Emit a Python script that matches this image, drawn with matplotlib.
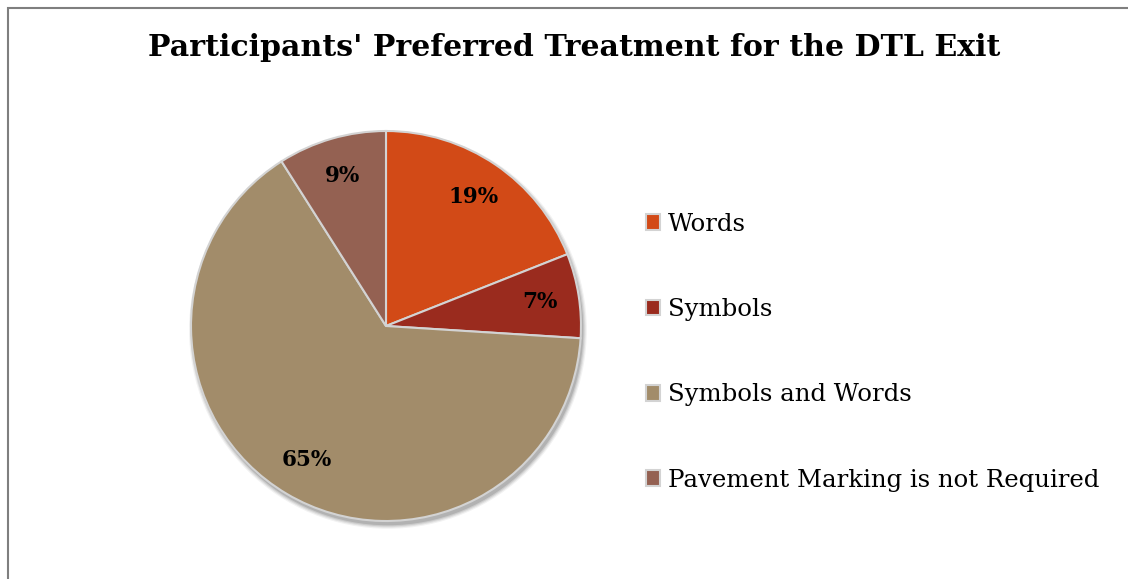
import matplotlib.pyplot as plt
from matplotlib.patches import Circle, Rectangle

categories = ["Words", "Symbols", "Symbols and Words", "Pavement Marking is not Required"]
shares = [19, 7, 65, 9]
colors = ["#D24A17", "#9A2B1E", "#A28C6A", "#946152"]
title = "Participants' Preferred Treatment for the DTL Exit"

W, H = 1128, 579
fig = plt.figure(figsize=(W / 100, H / 100), dpi=100)
plt.rcParams["font.family"] = ["DejaVu Serif"]

# outer chart frame (cut off on right and bottom)
fig.patches.append(Rectangle((8 / W, -0.1), 1.2, 1 - 8 / H + 0.1, transform=fig.transFigure,
                             fill=False, edgecolor="#7f7f7f", linewidth=1.5))

cx, cy, r = 386, 326, 195
ax = fig.add_axes([(cx - r) / W, (H - cy - r) / H, 2 * r / W, 2 * r / H])

# soft shadow under the pie
for k, a in enumerate([0.05, 0.07, 0.09, 0.12]):
    ax.add_patch(Circle((0.01, -0.02), 1.0 + 0.02 - k * 0.006, color="black", alpha=a,
                        linewidth=0, zorder=0, clip_on=False))

wedges, texts, autotexts = ax.pie(
    shares,
    colors=colors,
    startangle=90,
    counterclock=False,
    autopct="%d%%",
    pctdistance=0.8,
    radius=1.0,
    wedgeprops=dict(edgecolor="#D3D3D3", linewidth=1.5),
    textprops=dict(fontsize=15.5, fontweight="bold", color="black"),
)
for w in wedges:
    w.set_zorder(2)
    w.set_clip_on(False)
for t in autotexts:
    t.set_zorder(3)
ax.set_aspect("equal")
ax.set_xlim(-1, 1)
ax.set_ylim(-1, 1)
ax.axis("off")

fig.text(574 / W, 1 - 48 / H, title, ha="center", va="center", fontsize=21.6, fontweight="bold")

fig.legend(
    wedges,
    categories,
    loc="upper left",
    bbox_to_anchor=(636 / W, 1 - 203 / H),
    frameon=False,
    fontsize=17.6,
    handlelength=0.6,
    handleheight=0.6,
    handletextpad=0.3,
    labelspacing=2.55,
    borderaxespad=0,
)

fig.savefig("out.png", dpi=100)
